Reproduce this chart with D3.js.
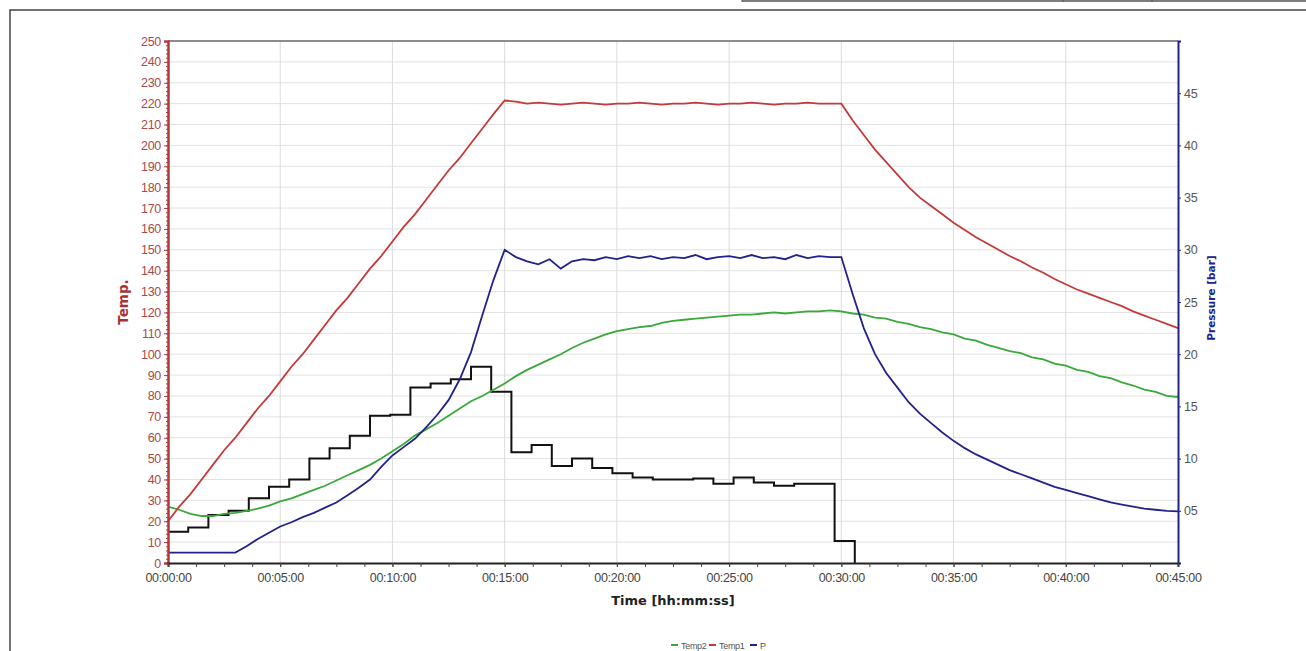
<!DOCTYPE html>
<html>
<head>
<meta charset="utf-8">
<script src="https://cdn.jsdelivr.net/npm/d3@7.9.0/dist/d3.min.js"></script>
<style>
  body { margin: 0; background: #fff; }
  svg { display: block; font-family: "Liberation Sans", Arial, sans-serif; }
</style>
</head>
<body>
<svg id="chart" width="1306" height="651"></svg>
<script>
// sample times in minutes
const minutes = [
  0, 0.5, 1, 1.5, 2, 2.5, 3, 3.5, 4, 4.5, 5, 5.5, 6, 6.5, 7, 7.5, 8, 8.5, 9, 9.5,
  10, 10.5, 11, 11.5, 12, 12.5, 13, 13.5, 14, 14.5, 15, 15.5, 16, 16.5, 17, 17.5, 18, 18.5, 19, 19.5,
  20, 20.5, 21, 21.5, 22, 22.5, 23, 23.5, 24, 24.5, 25, 25.5, 26, 26.5, 27, 27.5, 28, 28.5, 29, 29.5,
  30, 30.5, 31, 31.5, 32, 32.5, 33, 33.5, 34, 34.5, 35, 35.5, 36, 36.5, 37, 37.5, 38, 38.5, 39, 39.5,
  40, 40.5, 41, 41.5, 42, 42.5, 43, 43.5, 44, 44.5, 45
];

const temp1 = [
  20, 27, 33, 40, 47, 54, 60, 67, 74, 80, 87, 94, 100, 107, 114, 121, 127, 134, 141, 147,
  154, 161, 167, 174, 181, 188, 194, 201, 208, 215, 221.5, 221, 220, 220.5, 220, 219.5, 220, 220.5, 220, 219.5,
  220, 220, 220.5, 220, 219.5, 220, 220, 220.5, 220, 219.5, 220, 220, 220.5, 220, 219.5, 220, 220, 220.5, 220, 220,
  220, 212, 205, 198, 192, 186, 180, 175, 171, 167, 163, 159.5, 156, 153, 150, 147, 144.5, 141.5, 139, 136,
  133.5, 131, 129, 127, 125, 123, 120.5, 118.5, 116.5, 114.5, 112.5
];

const temp2 = [
  27, 25.5, 23.5, 22.5, 22.5, 23.5, 24, 25, 26, 27.5, 29.5, 31, 33, 35, 37, 39.5, 42, 44.5, 47, 50,
  53.5, 57, 61, 64, 67, 70.5, 74, 77.5, 80, 83, 86, 89.5, 92.5, 95, 97.5, 100, 103, 105.5, 107.5, 109.5,
  111, 112, 113, 113.5, 115, 116, 116.5, 117, 117.5, 118, 118.5, 119, 119, 119.5, 120, 119.5, 120, 120.5, 120.5, 121,
  120.5, 119.5, 119, 117.5, 117, 115.5, 114.5, 113, 112, 110.5, 109.5, 107.5, 106.5, 104.5, 103, 101.5, 100.5, 98.5, 97.5, 95.5,
  94.5, 92.5, 91.5, 89.5, 88.5, 86.5, 85, 83, 82, 80, 79.5
];

const pressure = [
  1, 1, 1, 1, 1, 1, 1, 1.6, 2.3, 2.9, 3.5, 3.9, 4.4, 4.8, 5.3, 5.8, 6.5, 7.2, 8, 9.2,
  10.3, 11.1, 11.9, 13, 14.2, 15.6, 17.6, 20.2, 23.7, 27.1, 30, 29.3, 28.9, 28.6, 29.1, 28.2, 28.9, 29.1, 29, 29.3,
  29.1, 29.4, 29.2, 29.4, 29.1, 29.3, 29.2, 29.5, 29.1, 29.3, 29.4, 29.2, 29.5, 29.2, 29.3, 29.1, 29.5, 29.2, 29.4, 29.3,
  29.3, 25.8, 22.5, 20, 18.2, 16.8, 15.4, 14.3, 13.4, 12.5, 11.7, 11, 10.4, 9.9, 9.4, 8.9, 8.5, 8.1, 7.7, 7.3,
  7, 6.7, 6.4, 6.1, 5.8, 5.6, 5.4, 5.2, 5.1, 5, 4.95
];

// black step trace (left axis units), one value per 0.9 min step
const stepStarts = [
  0, 0.9, 1.8, 2.7, 3.6, 4.5, 5.4, 6.3, 7.2, 8.1, 9, 9.9, 10.8, 11.7, 12.6, 13.5, 14.4,
  15.3, 16.2, 17.1, 18, 18.9, 19.8, 20.7, 21.6, 22.5, 23.4, 24.3, 25.2, 26.1, 27, 27.9, 28.8, 29.7, 30.6
];
const stepValues = [
  15, 17, 23, 25, 31, 36.5, 40, 50, 55, 61, 70.5, 71, 84, 86, 88, 94, 82,
  53, 56.5, 46.5, 50, 45.5, 43, 41, 40, 40, 40.5, 38, 41, 38.6, 37, 38, 38, 10.5, 0
];

const tempTicks = d3.range(0, 251, 10);
const pressureTicks = [5, 10, 15, 20, 25, 30, 35, 40, 45];
const timeTicks = [0, 5, 10, 15, 20, 25, 30, 35, 40, 45];
const timeLabels = ["00:00:00", "00:05:00", "00:10:00", "00:15:00", "00:20:00",
  "00:25:00", "00:30:00", "00:35:00", "00:40:00", "00:45:00"];

const legendItems = [
  { name: "Temp2", color: "#3aa83a" },
  { name: "Temp1", color: "#c43a3a" },
  { name: "P", color: "#22228c" }
];

const svg = d3.select("#chart");

const area = { left: 168, right: 1178, top: 41, bottom: 563 };

const x = d3.scaleLinear().domain([0, 45]).range([area.left, area.right]);
const yT = d3.scaleLinear().domain([0, 250]).range([area.bottom, area.top]);
const yP = d3.scaleLinear().domain([0, 50]).range([area.bottom, area.top]);

const tickFont = "Liberation Sans, Arial, sans-serif";
const titleFont = "DejaVu Sans, Verdana, sans-serif";

// outer frame + bits of the page table above
svg.append("rect")
  .attr("x", 10).attr("y", 10)
  .attr("width", 1320).attr("height", 700)
  .attr("fill", "none").attr("stroke", "#444").attr("stroke-width", 1.5);
svg.append("line").attr("x1", 742).attr("x2", 1306).attr("y1", 1).attr("y2", 1)
  .attr("stroke", "#555").attr("stroke-width", 1.5);
[742, 1063, 1152].forEach(px => {
  svg.append("line").attr("x1", px).attr("x2", px).attr("y1", 0).attr("y2", 2)
    .attr("stroke", "#555");
});

// gridlines
const grid = svg.append("g").attr("class", "grid");
grid.selectAll("line.h")
  .data(tempTicks.filter(d => d > 0 && d < 250))
  .join("line")
  .attr("class", "h")
  .attr("x1", area.left).attr("x2", area.right)
  .attr("y1", d => yT(d)).attr("y2", d => yT(d))
  .attr("stroke", "#e2e2e2").attr("stroke-width", 1);
grid.selectAll("line.v")
  .data(timeTicks.filter(d => d > 0 && d < 45))
  .join("line")
  .attr("class", "v")
  .attr("x1", d => x(d)).attr("x2", d => x(d))
  .attr("y1", area.top).attr("y2", area.bottom)
  .attr("stroke", "#dcdcdc").attr("stroke-width", 1);

// top frame line
svg.append("line")
  .attr("x1", area.left).attr("x2", area.right)
  .attr("y1", area.top).attr("y2", area.top)
  .attr("stroke", "#666").attr("stroke-width", 1.5);

// lines
const line = (ys, vals) => d3.line()
  .x((d, i) => x(minutes[i]))
  .y((d, i) => ys(vals[i]));

svg.append("path")
  .datum(stepValues)
  .attr("d", d3.line()
    .x((d, i) => x(stepStarts[i]))
    .y(d => yT(d))
    .curve(d3.curveStepAfter))
  .attr("fill", "none").attr("stroke", "#111").attr("stroke-width", 2);

svg.append("path")
  .datum(temp2)
  .attr("d", line(yT, temp2))
  .attr("fill", "none").attr("stroke", legendItems[0].color).attr("stroke-width", 1.8);

svg.append("path")
  .datum(temp1)
  .attr("d", line(yT, temp1))
  .attr("fill", "none").attr("stroke", legendItems[1].color).attr("stroke-width", 1.8);

svg.append("path")
  .datum(pressure)
  .attr("d", line(yP, pressure))
  .attr("fill", "none").attr("stroke", legendItems[2].color).attr("stroke-width", 1.8);

// left axis
const leftAxis = svg.append("g")
  .attr("transform", `translate(${area.left},0)`)
  .call(d3.axisLeft(yT).tickValues(d3.range(0, 251, 2)).tickSize(2).tickFormat(""));
leftAxis.call(g => g.select(".domain").remove());
leftAxis.selectAll("line").attr("stroke", "#b03a3a");
const leftMajor = svg.append("g")
  .attr("transform", `translate(${area.left},0)`)
  .call(d3.axisLeft(yT).tickValues(tempTicks).tickSize(4).tickPadding(3));
leftMajor.select(".domain").attr("stroke", "#b03a3a").attr("stroke-width", 2.5);
leftMajor.selectAll("line").attr("stroke", "#b03a3a");
leftMajor.selectAll("text")
  .attr("fill", "#a84a4a").attr("font-size", 12.5)
  .attr("letter-spacing", -0.3)
  .style("font-family", tickFont);

svg.append("text")
  .attr("transform", `translate(128,302) rotate(-90)`)
  .attr("text-anchor", "middle")
  .attr("font-weight", "bold").attr("font-size", 13.5)
  .attr("font-family", titleFont)
  .attr("fill", "#a83232")
  .text("Temp.");

// right axis
const rightAxis = svg.append("g")
  .attr("transform", `translate(${area.right},0)`)
  .call(d3.axisRight(yP).tickValues(pressureTicks).tickSize(3).tickPadding(3)
    .tickFormat(d3.format("02d")));
rightAxis.select(".domain").attr("stroke", "#22228c").attr("stroke-width", 2);
rightAxis.selectAll("line").attr("stroke", "#22228c");
rightAxis.selectAll("text")
  .attr("fill", "#555").attr("font-size", 12.5)
  .attr("letter-spacing", -0.3)
  .style("font-family", tickFont);

svg.append("text")
  .attr("transform", `translate(1215,298) rotate(-90)`)
  .attr("text-anchor", "middle")
  .attr("font-weight", "bold").attr("font-size", 10.5)
  .attr("font-family", titleFont)
  .attr("fill", "#22228c")
  .text("Pressure [bar]");

// bottom axis
const bottomMinor = svg.append("g")
  .attr("transform", `translate(0,${area.bottom})`)
  .call(d3.axisBottom(x).tickValues(d3.range(0, 45.01, 1.25)).tickSize(4).tickFormat(""));
bottomMinor.select(".domain").attr("stroke", "#222").attr("stroke-width", 2);
bottomMinor.selectAll("line").attr("stroke", "#444");
const bottomAxis = svg.append("g")
  .attr("transform", `translate(0,${area.bottom})`)
  .call(d3.axisBottom(x).tickValues(timeTicks).tickSize(4).tickPadding(6)
    .tickFormat((d, i) => timeLabels[i]));
bottomAxis.select(".domain").remove();
bottomAxis.selectAll("line").attr("stroke", "#444");
bottomAxis.selectAll("text")
  .attr("fill", "#444").attr("font-size", 12.5)
  .attr("letter-spacing", -0.3)
  .style("font-family", tickFont);

svg.append("text")
  .attr("x", 673).attr("y", 605)
  .attr("text-anchor", "middle")
  .attr("font-weight", "bold").attr("font-size", 13)
  .attr("font-family", titleFont)
  .attr("fill", "#222")
  .text("Time [hh:mm:ss]");

// legend
const legendX = [671, 709, 750];
const legend = svg.append("g").attr("class", "legend");
legend.selectAll("g")
  .data(legendItems)
  .join("g")
  .attr("transform", (d, i) => `translate(${legendX[i]},645)`)
  .each(function (d) {
    const g = d3.select(this);
    g.append("line").attr("x1", 0).attr("x2", 7).attr("y1", 0).attr("y2", 0)
      .attr("stroke", d.color).attr("stroke-width", 2);
    g.append("text").attr("x", 10).attr("y", 3.5)
      .attr("font-size", 9).attr("letter-spacing", -0.3)
      .attr("fill", "#555").text(d.name);
  });
</script>
</body>
</html>
